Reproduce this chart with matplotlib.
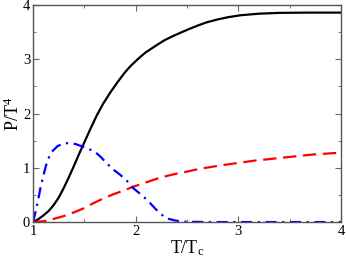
import numpy as np
import matplotlib.pyplot as plt
from matplotlib.ticker import MultipleLocator

# data
t_black = [1.0, 1.05, 1.1, 1.15, 1.2, 1.25, 1.3, 1.35, 1.4, 1.45, 1.5, 1.56, 1.62,
           1.68, 1.75, 1.82, 1.896, 1.95, 2.0, 2.04, 2.1, 2.2, 2.28, 2.366, 2.45,
           2.53, 2.61, 2.69, 2.8, 2.9, 3.015, 3.2, 3.4, 3.7, 4.0]
p_black = [0.0, 0.05, 0.12, 0.2, 0.31, 0.45, 0.63, 0.83, 1.04, 1.26, 1.47, 1.72, 1.96,
           2.17, 2.38, 2.57, 2.76, 2.875, 2.965, 3.035, 3.13, 3.255, 3.35, 3.43, 3.5,
           3.565, 3.625, 3.68, 3.735, 3.775, 3.81, 3.84, 3.855, 3.86, 3.86]

t_red = [1.0, 1.1, 1.166, 1.3, 1.4, 1.49, 1.58, 1.68, 1.78, 1.88, 1.99, 2.1, 2.24,
         2.37, 2.5, 2.62, 2.75, 2.87, 3.0, 3.15, 3.3, 3.5, 3.7, 3.85, 4.0]
p_red = [0.0, 0.015, 0.04, 0.11, 0.18, 0.25, 0.34, 0.43, 0.51, 0.58, 0.66, 0.73, 0.82,
         0.88, 0.93, 0.98, 1.02, 1.055, 1.09, 1.13, 1.16, 1.2, 1.24, 1.26, 1.28]

t_blue = [1.0, 1.02, 1.05, 1.075, 1.1, 1.125, 1.15, 1.18, 1.24, 1.3, 1.36, 1.41,
          1.5, 1.6, 1.66, 1.72, 1.78, 1.85, 1.92, 1.98, 2.05, 2.11, 2.17, 2.22,
          2.27, 2.32, 2.38, 2.45, 2.55, 2.7, 3.0, 3.5, 4.0]
p_blue = [0.0, 0.15, 0.41, 0.65, 0.85, 1.03, 1.17, 1.29, 1.4, 1.45, 1.455, 1.44,
          1.38, 1.3, 1.2, 1.08, 0.97, 0.87, 0.75, 0.62, 0.51, 0.41, 0.29, 0.19,
          0.11, 0.06, 0.03, 0.01, 0.004, 0.0, 0.0, 0.0, 0.0]

plt.rcParams['font.family'] = 'Liberation Serif'
plt.rcParams['mathtext.fontset'] = 'custom'
plt.rcParams['mathtext.rm'] = 'Liberation Serif'
plt.rcParams['mathtext.it'] = 'Liberation Serif'

fig = plt.figure(figsize=(3.46, 2.57), dpi=100)
ax = fig.add_axes([0.0954, 0.136, 0.8901, 0.8445])

ax.plot(t_black, p_black, color='black', lw=1.6)
ax.plot(t_red, p_red, color='red', lw=1.6, dashes=(6, 3))
ax.plot(t_blue, p_blue, color='blue', lw=1.6, dashes=(5, 2.5, 1, 2.5))

ax.set_xlim(1, 4)
ax.set_ylim(0, 4)
ax.xaxis.set_major_locator(MultipleLocator(1))
ax.xaxis.set_minor_locator(MultipleLocator(0.5))
ax.yaxis.set_major_locator(MultipleLocator(1))
ax.yaxis.set_minor_locator(MultipleLocator(0.5))
ax.tick_params(which='both', direction='in', top=True, right=True,
               labelsize=10.5, color='#666666', pad=2)
ax.tick_params(which='major', length=4)
ax.tick_params(which='minor', length=2)
for s in ax.spines.values():
    s.set_color('#555555')
    s.set_linewidth(1.0)

ax.set_xlabel('T/T$_\\mathrm{c}$', fontsize=13, labelpad=0)
ax.set_ylabel('P/T$^4$', fontsize=13, labelpad=0)

fig.savefig('out.png', dpi=100)
